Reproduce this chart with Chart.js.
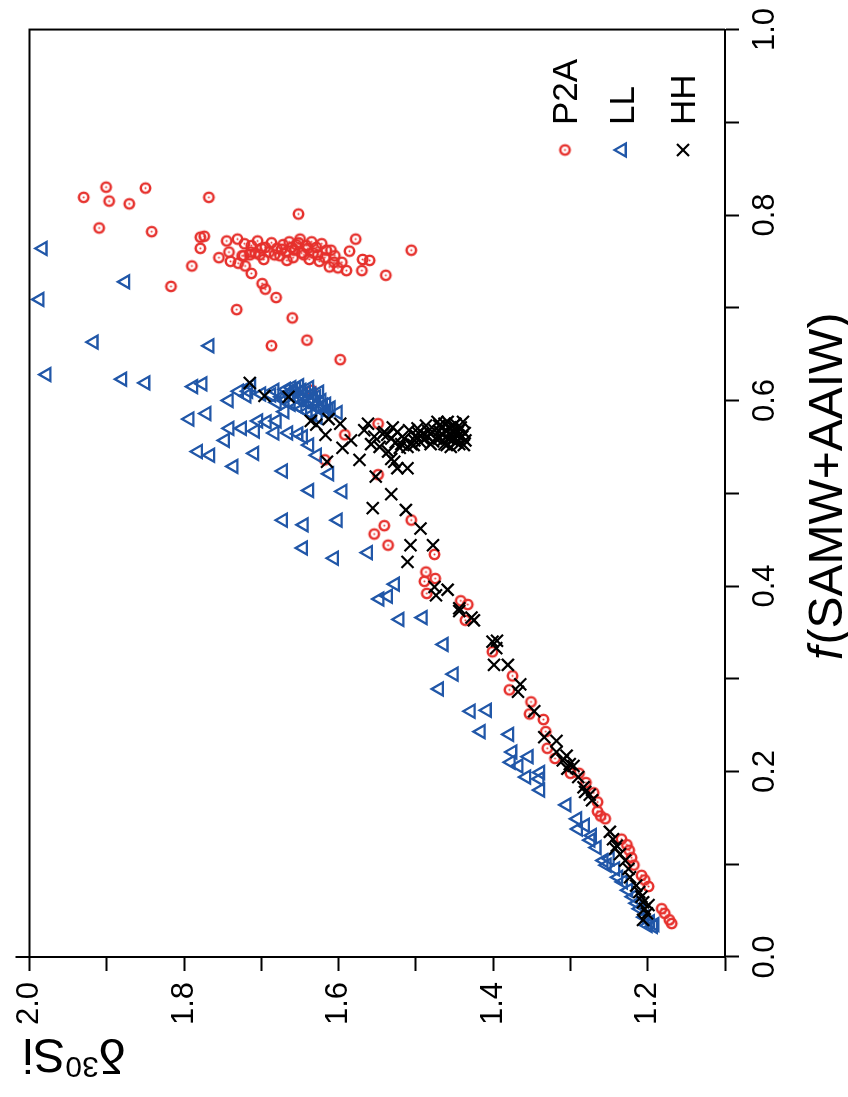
<!DOCTYPE html>
<html><head><meta charset="utf-8">
<script src="https://cdn.jsdelivr.net/npm/chart.js@4"></script>
<style>
html,body{margin:0;padding:0;background:#fff;overflow:hidden;width:848px;height:1097px;}
#wrap{position:absolute;left:0;top:0;width:1097px;height:848px;transform-origin:0 0;transform:translateY(1097px) rotate(-90deg);}
canvas{display:block;}
</style></head><body>
<div id="wrap"><canvas id="c" width="1097" height="848"></canvas></div>
<script>
// Series names and text
const seriesNames = ['P2A', 'LL', 'HH'];
const xTitle = ['f', '(SAMW+AAIW)'];
const yTitle = ['δ', '30', 'Si'];
const xTickLabels = ['0.0', '0.2', '0.4', '0.6', '0.8', '1.0'];
const yTickLabels = ['1.2', '1.4', '1.6', '1.8', '2.0'];

// Each pair: [δ30Si, f(SAMW+AAIW)]
const p2aPoints = [
[1.901,0.830],[1.850,0.829],[1.930,0.819],[1.897,0.815],[1.871,0.812],[1.768,0.819],[1.910,0.786],[1.842,0.782],
[1.779,0.776],[1.774,0.777],[1.779,0.764],[1.745,0.772],[1.731,0.774],[1.722,0.769],[1.713,0.767],[1.742,0.760],
[1.725,0.756],[1.715,0.757],[1.755,0.754],[1.740,0.750],[1.730,0.748],[1.721,0.745],[1.790,0.745],[1.713,0.737],
[1.817,0.723],[1.732,0.698],[1.652,0.801],[1.578,0.774],[1.506,0.762],[1.586,0.761],[1.569,0.752],[1.560,0.751],
[1.570,0.740],[1.539,0.735],[1.705,0.772],[1.687,0.770],[1.672,0.768],[1.664,0.771],[1.650,0.774],[1.723,0.756],
[1.708,0.759],[1.702,0.757],[1.695,0.765],[1.683,0.757],[1.676,0.756],[1.674,0.763],[1.661,0.765],[1.659,0.754],
[1.655,0.768],[1.648,0.759],[1.642,0.767],[1.638,0.752],[1.633,0.759],[1.629,0.765],[1.625,0.750],[1.618,0.754],
[1.612,0.744],[1.606,0.749],[1.601,0.743],[1.596,0.749],[1.590,0.740],[1.699,0.726],[1.695,0.720],[1.681,0.711],
[1.660,0.689],[1.641,0.665],[1.687,0.659],[1.598,0.644],[1.635,0.611],[1.610,0.762],[1.622,0.769],[1.635,0.771],
[1.697,0.752],[1.667,0.751],[1.680,0.764],[1.668,0.760],[1.657,0.762],[1.645,0.757],[1.640,0.764],[1.627,0.757],
[1.690,0.760],[1.700,0.764],[1.714,0.760],[1.616,0.762],[1.605,0.756],[1.652,0.770],
[1.592,0.563],[1.618,0.536],[1.549,0.575],[1.549,0.520],[1.506,0.471],[1.541,0.465],
[1.554,0.456],[1.536,0.444],[1.476,0.434],[1.487,0.415],[1.489,0.405],[1.475,0.408],[1.486,0.392],[1.442,0.384],
[1.433,0.380],[1.436,0.363],[1.401,0.329],[1.375,0.303],[1.379,0.288],[1.351,0.275],[1.353,0.262],[1.335,0.256],
[1.332,0.243],[1.330,0.225],[1.320,0.214],[1.300,0.198],[1.289,0.198],[1.280,0.188],[1.270,0.177],[1.265,0.167],
[1.265,0.157],[1.261,0.152],[1.255,0.149],[1.234,0.127],[1.227,0.121],[1.224,0.115],[1.221,0.107],[1.218,0.099],
[1.208,0.088],[1.204,0.083],[1.199,0.076],[1.182,0.052],[1.178,0.047],[1.172,0.040],[1.169,0.036]
];
const llPoints = [
[1.983,0.764],[1.876,0.728],[1.987,0.709],[1.917,0.663],[1.767,0.659],[1.978,0.628],[1.880,0.623],[1.850,0.619],
[1.788,0.615],[1.776,0.618],[1.729,0.610],[1.717,0.610],[1.742,0.600],[1.713,0.616],[1.683,0.611],[1.687,0.606],
[1.680,0.598],[1.771,0.586],[1.793,0.580],[1.741,0.570],[1.725,0.570],[1.708,0.567],[1.704,0.578],[1.693,0.577],
[1.680,0.578],[1.683,0.565],[1.665,0.565],[1.652,0.564],[1.646,0.561],[1.638,0.552],[1.670,0.588],[1.747,0.557],
[1.782,0.545],[1.766,0.541],[1.709,0.543],[1.736,0.529],[1.628,0.541],[1.672,0.524],[1.612,0.521],[1.638,0.503],
[1.595,0.502],[1.672,0.471],[1.645,0.466],[1.601,0.471],[1.646,0.441],[1.606,0.430],[1.601,0.587],[1.562,0.436],
[1.527,0.402],[1.547,0.386],[1.536,0.389],[1.521,0.364],[1.491,0.366],[1.464,0.337],[1.451,0.305],[1.470,0.289],
[1.429,0.265],[1.408,0.266],[1.416,0.243],[1.379,0.240],[1.375,0.221],[1.354,0.216],[1.377,0.210],[1.367,0.206],
[1.357,0.194],[1.339,0.199],[1.340,0.192],[1.339,0.180],[1.305,0.164],[1.291,0.149],[1.281,0.142],[1.290,0.138],
[1.272,0.131],[1.274,0.126],[1.266,0.118],[1.257,0.104],[1.253,0.099],[1.242,0.095],[1.238,0.086],[1.232,0.081],
[1.225,0.072],[1.219,0.065],[1.210,0.052],[1.204,0.043],[1.197,0.038],[1.193,0.033],[1.200,0.034],[1.191,0.035],
[1.214,0.058],[1.249,0.106],
[1.668,0.612],[1.661,0.614],[1.655,0.613],[1.648,0.611],[1.642,0.609],[1.635,0.607],[1.629,0.604],[1.622,0.600],
[1.616,0.596],[1.610,0.592],[1.664,0.607],[1.657,0.604],[1.651,0.601],[1.644,0.599],[1.638,0.597],[1.631,0.594],
[1.625,0.591],[1.618,0.588],[1.653,0.594],[1.647,0.591],[1.640,0.588],[1.634,0.585],[1.627,0.582],[1.659,0.610],
[1.646,0.606],[1.633,0.601],[1.620,0.595],[1.613,0.590],[1.670,0.600],[1.662,0.596],[1.674,0.604],[1.625,0.609],
[1.638,0.614],[1.651,0.616],[1.700,0.607],[1.719,0.605]
];
const hhPoints = [
[1.715,0.619],[1.696,0.605],[1.665,0.604],[1.636,0.578],[1.629,0.574],[1.613,0.580],[1.598,0.575],[1.617,0.563],
[1.595,0.549],[1.615,0.534],[1.584,0.557],[1.573,0.536],[1.567,0.568],[1.562,0.575],[1.558,0.553],[1.554,0.561],
[1.552,0.518],[1.547,0.550],[1.541,0.566],[1.536,0.545],[1.532,0.537],[1.528,0.534],[1.524,0.527],[1.511,0.527],
[1.532,0.499],[1.556,0.484],[1.513,0.482],[1.494,0.462],[1.507,0.444],[1.511,0.426],[1.478,0.444],[1.476,0.399],
[1.459,0.396],[1.474,0.390],[1.444,0.376],
[1.530,0.571],[1.524,0.566],[1.519,0.553],[1.515,0.559],[1.509,0.568],[1.506,0.553],[1.500,0.562],[1.498,0.570],
[1.494,0.555],[1.487,0.573],[1.485,0.561],[1.481,0.553],[1.476,0.568],[1.472,0.577],[1.470,0.559],[1.466,0.571],
[1.463,0.553],[1.459,0.577],[1.457,0.564],[1.453,0.557],[1.451,0.573],[1.446,0.566],[1.444,0.553],[1.440,0.561],
[1.438,0.552],[1.461,0.568],[1.467,0.564],[1.474,0.559],[1.481,0.564],[1.491,0.564],[1.502,0.557],[1.511,0.550],
[1.521,0.549],[1.526,0.555],[1.532,0.559],[1.537,0.563],[1.543,0.564],[1.442,0.571],[1.448,0.555],[1.436,0.557],
[1.455,0.550],[1.439,0.577],
[1.449,0.575],[1.445,0.562],[1.452,0.566],[1.458,0.559],[1.463,0.575],[1.437,0.565],[1.443,0.569],[1.450,0.560],
[1.456,0.571],[1.465,0.557],[1.470,0.567],[1.478,0.556],[1.484,0.567],[1.490,0.558],[1.497,0.565],[1.503,0.552],
[1.470,0.573],[1.460,0.552],
[1.444,0.373],[1.425,0.363],[1.428,0.366],[1.401,0.340],[1.395,0.341],[1.396,0.333],[1.399,0.315],[1.381,0.315],
[1.365,0.294],[1.368,0.286],[1.347,0.265],[1.334,0.237],[1.318,0.233],[1.318,0.221],[1.305,0.217],[1.310,0.212],
[1.301,0.208],[1.296,0.206],[1.304,0.203],[1.290,0.194],[1.283,0.183],[1.275,0.175],[1.272,0.169],[1.281,0.178],
[1.249,0.135],[1.245,0.127],[1.240,0.120],[1.242,0.117],[1.236,0.111],[1.229,0.104],[1.225,0.095],[1.223,0.086],
[1.208,0.065],[1.206,0.059],[1.204,0.052],[1.201,0.047],[1.206,0.040],[1.199,0.056],[1.215,0.077],[1.211,0.070]
];

const RED = '#e6302c', BLUE = '#2157a8', BLACK = '#000000';
const FONT = "'Liberation Sans', Arial, Helvetica, sans-serif";

function circleDot() {
  const c = document.createElement('canvas');
  c.width = 15; c.height = 15;
  const g = c.getContext('2d');
  g.strokeStyle = RED; g.lineWidth = 2.4;
  g.beginPath(); g.arc(7.5, 7.5, 4.7, 0, Math.PI * 2); g.stroke();
  g.fillStyle = RED;
  g.beginPath(); g.arc(7.5, 7.5, 1.0, 0, Math.PI * 2); g.fill();
  return c;
}
const redMarker = circleDot();
const toXY = pts => pts.map(p => ({ x: p[1], y: p[0] }));

const styles = [
  { pointStyle: redMarker, radius: 7, borderWidth: 2.4, color: RED },
  { pointStyle: 'triangle', radius: 7.5, borderWidth: 2.3, color: BLUE },
  { pointStyle: 'crossRot', radius: 8.5, borderWidth: 2.2, color: BLACK }
];
const allPoints = [p2aPoints, llPoints, hhPoints];

const datasets = allPoints.map((pts, i) => ({
  label: seriesNames[i],
  data: toXY(pts),
  pointStyle: styles[i].pointStyle,
  pointRadius: styles[i].radius,
  pointBorderWidth: styles[i].borderWidth,
  pointBorderColor: styles[i].color,
  pointBackgroundColor: 'rgba(0,0,0,0)',
  showLine: false,
  order: 3 - i
}));

const frameAndText = {
  id: 'frameAndText',
  afterDraw(chart) {
    const ctx = chart.ctx, a = chart.chartArea;
    ctx.save();
    ctx.strokeStyle = '#000'; ctx.lineWidth = 2;
    ctx.beginPath();
    ctx.moveTo(a.left, a.top); ctx.lineTo(a.right, a.top); ctx.lineTo(a.right, a.bottom);
    ctx.moveTo(a.left, a.top); ctx.lineTo(a.left, a.top - 14);
    ctx.stroke();

    // x title: italic f + (SAMW+AAIW)
    ctx.fillStyle = '#000';
    ctx.textBaseline = 'alphabetic';
    ctx.textAlign = 'left';
    ctx.font = 'italic 48px ' + FONT;
    const w1 = ctx.measureText(xTitle[0]).width;
    ctx.font = '48px ' + FONT;
    const w2 = ctx.measureText(xTitle[1]).width;
    const cx = (a.left + a.right) / 2 + 6;
    let x0 = cx - (w1 + w2) / 2;
    ctx.font = 'italic 48px ' + FONT;
    ctx.fillText(xTitle[0], x0, 842);
    ctx.font = '48px ' + FONT;
    ctx.fillText(xTitle[1], x0 + w1 + 2, 842);

    // y title: δ 30 Si, rotated
    ctx.save();
    ctx.translate(58, 74);
    ctx.rotate(-Math.PI / 2);
    ctx.font = '48px ' + FONT;
    const d1 = ctx.measureText(yTitle[0]).width;
    const d3 = ctx.measureText(yTitle[2]).width;
    ctx.font = '30px ' + FONT;
    const d2 = ctx.measureText(yTitle[1]).width;
    let sx = -(d1 + d2 + d3) / 2;
    ctx.font = '48px ' + FONT;
    ctx.fillText(yTitle[0], sx, 0);
    ctx.font = '30px ' + FONT;
    ctx.fillText(yTitle[1], sx + d1, -18);
    ctx.font = '48px ' + FONT;
    ctx.fillText(yTitle[2], sx + d1 + d2, 0);
    ctx.restore();

    // legend
    const rows = [565, 622, 683];
    ctx.font = '35px ' + FONT;
    rows.forEach((y, i) => {
      const s = styles[i];
      ctx.strokeStyle = s.color; ctx.fillStyle = 'rgba(0,0,0,0)'; ctx.lineWidth = s.borderWidth;
      Chart.helpers.drawPoint(ctx, { pointStyle: s.pointStyle, radius: s.radius, borderWidth: s.borderWidth, rotation: 0 }, 947, y);
      ctx.fillStyle = '#000';
      ctx.fillText(seriesNames[i], 972, y + 12);
    });
    ctx.restore();
  }
};

const near = (v, arr) => arr.find(t => Math.abs(parseFloat(t) - v) < 1e-6);

new Chart(document.getElementById('c'), {
  type: 'scatter',
  data: { datasets },
  options: {
    responsive: false,
    animation: false,
    devicePixelRatio: 1,
    layout: { padding: { top: 27, right: 26, left: 0, bottom: 0 } },
    plugins: { legend: { display: false }, tooltip: { enabled: false } },
    scales: {
      x: {
        type: 'linear', position: 'bottom', min: 0, max: 1,
        border: { display: true, color: '#000', width: 2 },
        grid: { display: true, drawOnChartArea: false, drawTicks: true, tickLength: 14, tickColor: '#000', tickWidth: 2 },
        ticks: { stepSize: 0.1, autoSkip: false, maxRotation: 0, minRotation: 0, padding: 8, color: '#000',
          font: { size: 31, family: FONT },
          callback: v => near(v, xTickLabels) || '' },
        afterFit(s) { s.height = 123; }
      },
      y: {
        type: 'linear', position: 'left', min: 1.1, max: 2.0,
        border: { display: true, color: '#000', width: 2 },
        grid: { display: true, drawOnChartArea: false, drawTicks: true, tickLength: 14, tickColor: '#000', tickWidth: 2 },
        ticks: { stepSize: 0.1, autoSkip: false, padding: 11, color: '#000',
          font: { size: 31, family: FONT },
          callback: v => near(v, yTickLabels) || '' },
        afterFit(s) { s.width = 140; }
      }
    }
  },
  plugins: [frameAndText]
});
</script>
</body></html>
